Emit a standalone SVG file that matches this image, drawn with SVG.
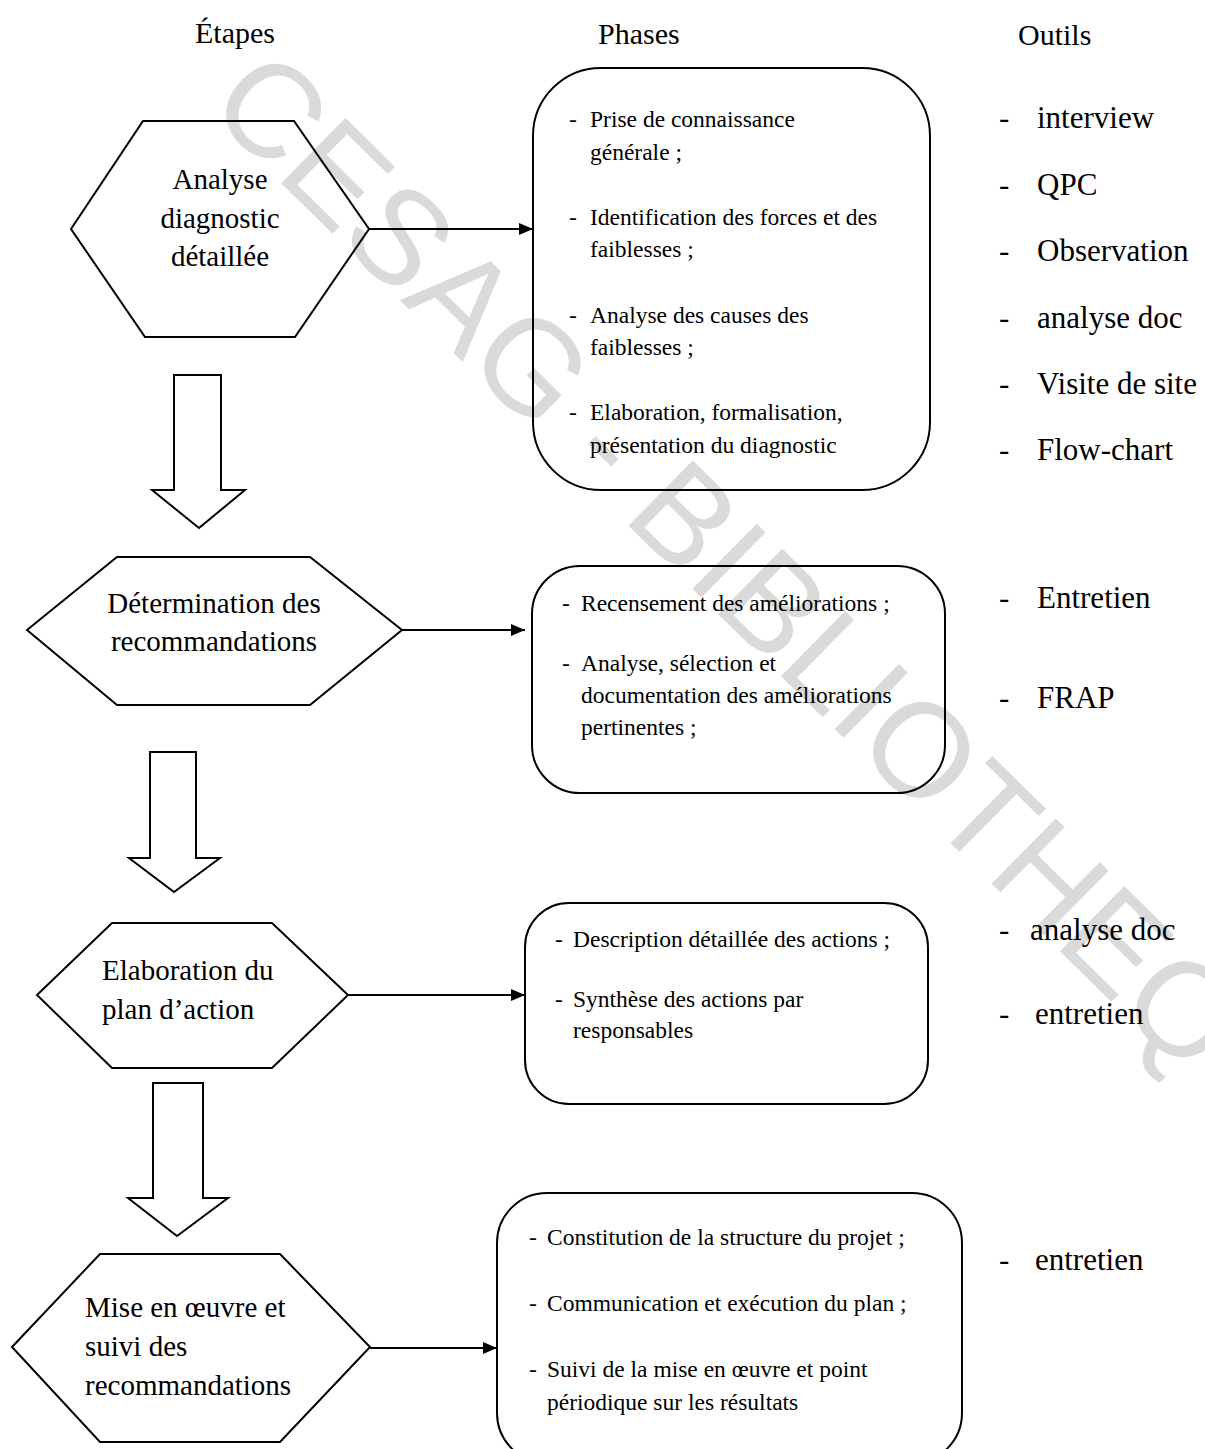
<svg xmlns="http://www.w3.org/2000/svg" width="1205" height="1449" viewBox="0 0 1205 1449">
<defs>
<style>
.shape{fill:none;stroke:#000;stroke-width:2;stroke-linejoin:miter}
.conn{fill:none;stroke:#000;stroke-width:2}
.hdr{font-size:30px;fill:#000}
.lbl{font-size:29px;fill:#000}
.box{font-size:23.5px;fill:#000}
.tool{font-size:31px;fill:#000}
.wm{font-size:133px;fill:#dadada}
</style>
<marker id="ah" markerWidth="14" markerHeight="12" refX="14" refY="6" orient="auto" markerUnits="userSpaceOnUse">
<path d="M0,0 L14,6 L0,12 Z" fill="#000"/>
</marker>
</defs>
<rect width="1205" height="1449" fill="#fff"/>
<text class="wm" font-family="Liberation Sans, Arial, sans-serif" transform="translate(205,108) rotate(44.6)">CESAG - BIBLIOTHEQUE</text>

<g font-family="Liberation Serif, Times New Roman, Times, serif">
<g id="headers">
<text class="hdr" x="195" y="43">Étapes</text>
<text class="hdr" x="598" y="44">Phases</text>
<text class="hdr" x="1018" y="45">Outils</text>
</g>

<g id="connectors">
<line class="conn" x1="369" y1="229" x2="533" y2="229" marker-end="url(#ah)"/>
<line class="conn" x1="402" y1="630" x2="525" y2="630" marker-end="url(#ah)"/>
<line class="conn" x1="348" y1="995" x2="525" y2="995" marker-end="url(#ah)"/>
<line class="conn" x1="370" y1="1348" x2="497" y2="1348" marker-end="url(#ah)"/>
<path class="shape" d="M174,375 L221,375 L221,490 L245,490 L199,528 L152,490 L174,490 Z"/>
<path class="shape" d="M150,752 L196,752 L196,858 L220,858 L174,892 L129,858 L150,858 Z"/>
<path class="shape" d="M153,1083 L203,1083 L203,1198 L228,1198 L177,1236 L128,1198 L153,1198 Z"/>
</g>

<g id="etape1">
<polygon class="shape" points="71,229 143,121 294,121 369,229 295,337 145,337"/>
<text class="lbl" x="220" y="189" text-anchor="middle">Analyse</text>
<text class="lbl" x="220" y="228" text-anchor="middle">diagnostic</text>
<text class="lbl" x="220" y="266" text-anchor="middle">détaillée</text>
</g>

<g id="etape2">
<polygon class="shape" points="27,630 117,557 310,557 402,630 310,705 117,705"/>
<text class="lbl" x="214" y="613" text-anchor="middle">Détermination des</text>
<text class="lbl" x="214" y="651" text-anchor="middle">recommandations</text>
</g>

<g id="etape3">
<polygon class="shape" points="37,995 112,923 272,923 348,995 272,1068 112,1068"/>
<text class="lbl" x="102" y="980">Elaboration du</text>
<text class="lbl" x="102" y="1019">plan d’action</text>
</g>

<g id="etape4">
<polygon class="shape" points="12,1347 100,1254 280,1254 370,1347 280,1442 100,1442"/>
<text class="lbl" x="85" y="1317">Mise en œuvre et</text>
<text class="lbl" x="85" y="1356">suivi des</text>
<text class="lbl" x="85" y="1395">recommandations</text>
</g>

<g id="phase1">
<rect class="shape" x="533" y="68" width="397" height="422" rx="68" ry="68"/>
<text class="box" x="569" y="127">-</text><text class="box" x="590" y="127">Prise de connaissance</text>
<text class="box" x="590" y="160">générale ;</text>
<text class="box" x="569" y="225">-</text><text class="box" x="590" y="225">Identification des forces et des</text>
<text class="box" x="590" y="257">faiblesses ;</text>
<text class="box" x="569" y="323">-</text><text class="box" x="590" y="323">Analyse des causes des</text>
<text class="box" x="590" y="355">faiblesses ;</text>
<text class="box" x="569" y="420">-</text><text class="box" x="590" y="420">Elaboration, formalisation,</text>
<text class="box" x="590" y="453">présentation du diagnostic</text>
</g>

<g id="phase2">
<rect class="shape" x="532" y="566" width="413" height="227" rx="48" ry="48"/>
<text class="box" x="562" y="611">-</text><text class="box" x="581" y="611">Recensement des améliorations ;</text>
<text class="box" x="562" y="671">-</text><text class="box" x="581" y="671">Analyse, sélection et</text>
<text class="box" x="581" y="703">documentation des améliorations</text>
<text class="box" x="581" y="735">pertinentes ;</text>
</g>

<g id="phase3">
<rect class="shape" x="525" y="903" width="403" height="201" rx="44" ry="44"/>
<text class="box" x="555" y="947">-</text><text class="box" x="573" y="947">Description détaillée des actions ;</text>
<text class="box" x="555" y="1007">-</text><text class="box" x="573" y="1007">Synthèse des actions par</text>
<text class="box" x="573" y="1038">responsables</text>
</g>

<g id="phase4">
<rect class="shape" x="497" y="1193" width="465" height="270" rx="50" ry="50"/>
<text class="box" x="529" y="1245">-</text><text class="box" x="547" y="1245">Constitution de la structure du projet ;</text>
<text class="box" x="529" y="1311">-</text><text class="box" x="547" y="1311">Communication et exécution du plan ;</text>
<text class="box" x="529" y="1377">-</text><text class="box" x="547" y="1377">Suivi de la mise en œuvre et point</text>
<text class="box" x="547" y="1410">périodique sur les résultats</text>
</g>

<g id="outils1">
<text class="tool" x="999" y="128">-</text><text class="tool" x="1037" y="128">interview</text>
<text class="tool" x="999" y="195">-</text><text class="tool" x="1037" y="195">QPC</text>
<text class="tool" x="999" y="261">-</text><text class="tool" x="1037" y="261">Observation</text>
<text class="tool" x="999" y="328">-</text><text class="tool" x="1037" y="328">analyse doc</text>
<text class="tool" x="999" y="394">-</text><text class="tool" x="1037" y="394">Visite de site</text>
<text class="tool" x="999" y="460">-</text><text class="tool" x="1037" y="460">Flow-chart</text>
</g>
<g id="outils2">
<text class="tool" x="999" y="608">-</text><text class="tool" x="1037" y="608">Entretien</text>
<text class="tool" x="999" y="708">-</text><text class="tool" x="1037" y="708">FRAP</text>
</g>
<g id="outils3">
<text class="tool" x="999" y="940">-</text><text class="tool" x="1030" y="940">analyse doc</text>
<text class="tool" x="999" y="1024">-</text><text class="tool" x="1035" y="1024">entretien</text>
</g>
<g id="outils4">
<text class="tool" x="999" y="1270">-</text><text class="tool" x="1035" y="1270">entretien</text>
</g>
</g>
</svg>
